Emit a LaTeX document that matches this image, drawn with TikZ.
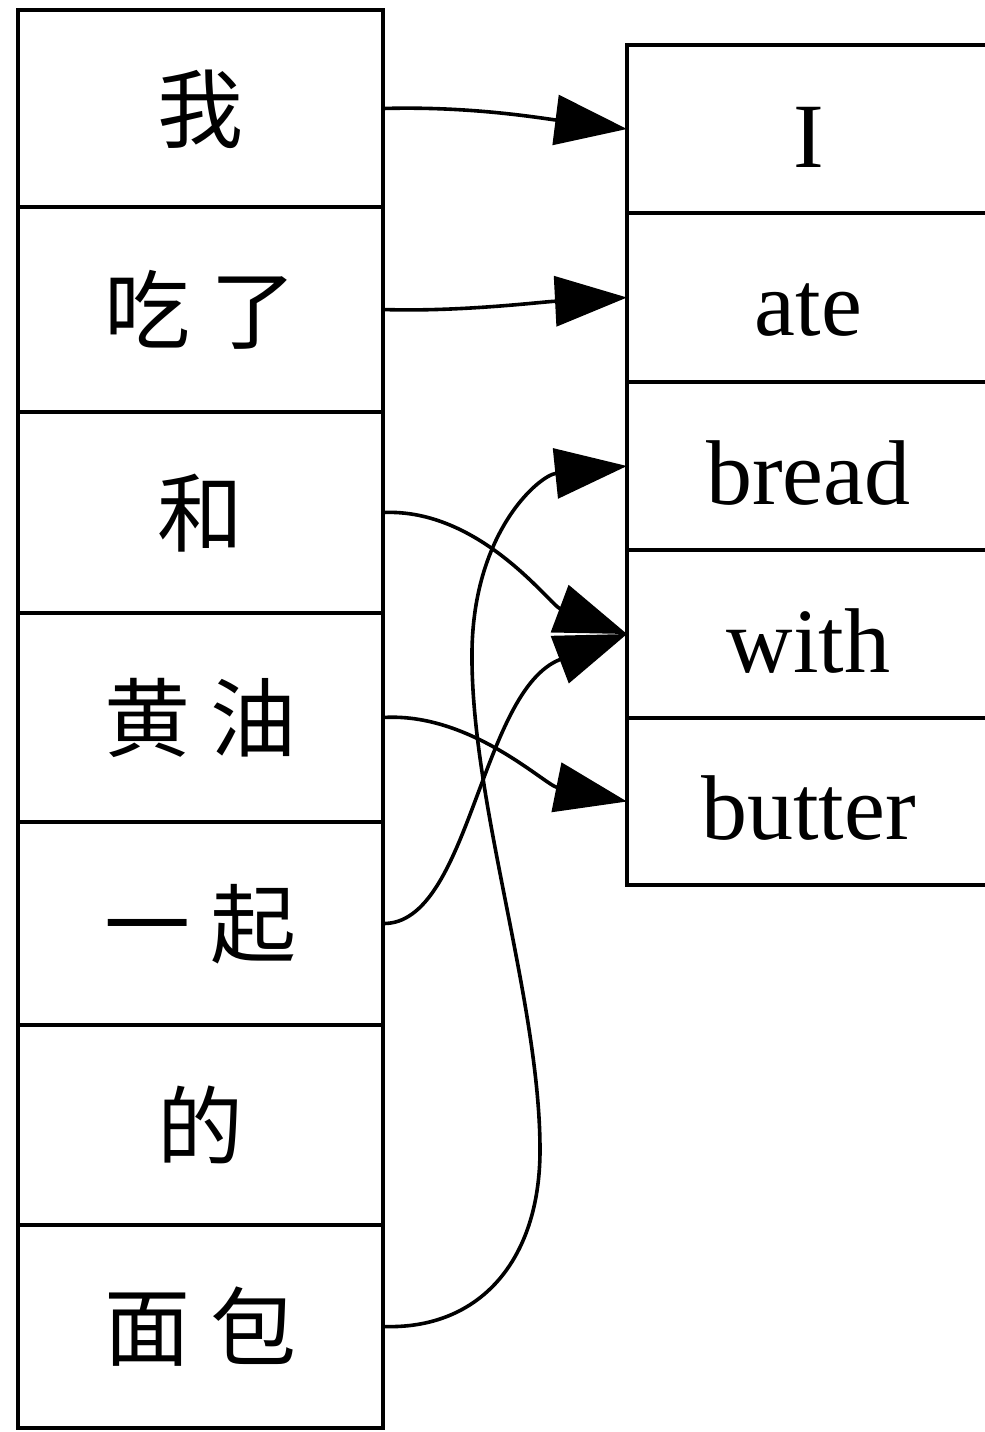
\documentclass[tikz,border=0pt]{standalone}
\usepackage{fontspec}
\setmainfont{Liberation Serif}
\newfontfamily\cjk{Noto Sans CJK SC}
\usetikzlibrary{arrows.meta}
\begin{document}
\begin{tikzpicture}[x=0.5pt,y=-0.5pt,
 cell/.style={draw, line width=1.9pt, rectangle, inner sep=0pt, outer sep=0pt, text height=38pt, text depth=0pt, font=\fontsize{46}{50}\selectfont},
 lcell/.style={cell, minimum width=182.5pt, text height=33pt, font=\fontsize{43}{48}\selectfont\cjk},
 rcell/.style={cell, minimum width=181.5pt},
 link/.style={line width=1.8pt, -{Triangle[length=36pt,width=25pt]}}]
\useasboundingbox (0,0) rectangle (985,1432);
% left column
\node[lcell, minimum height=98.5pt]  (w1) at (200.5,108.5)  {我};
\node[lcell, minimum height=102.5pt] (w2) at (200.5,309.5)  {吃 了};
\node[lcell, minimum height=100.5pt] (w3) at (200.5,512.5)  {和};
\node[lcell, minimum height=104.5pt] (w4) at (200.5,717.5)  {黄 油};
\node[lcell, minimum height=101.5pt] (w5) at (200.5,923.5)  {一 起};
\node[lcell, minimum height=100pt]   (w6) at (200.5,1125)   {的};
\node[lcell, minimum height=101.5pt] (w7) at (200.5,1326.5) {面 包};
% right column
\node[rcell, minimum height=84pt]   (r1) at (808.5,129)   {I};
\node[rcell, minimum height=84.5pt] (r2) at (808.5,297.5) {ate};
\node[rcell, minimum height=84pt]   (r3) at (808.5,466)   {bread};
\node[rcell, minimum height=84pt]   (r4) at (808.5,634)   {with};
\node[rcell, minimum height=83.5pt] (r5) at (808.5,801.5) {butter};
% links
\draw[link] (w1.east) .. controls (470,106) and (540,118) .. (r1.west);
\draw[link] (w2.east) .. controls (460,312) and (540,302) .. (r2.west);
\draw[link] (w3.east) .. controls (480,508) and (550,605) .. (r4.west);
\draw[link] (w4.east) .. controls (470,712) and (545,785) .. (r5.west);
\draw[link] (w5.east) .. controls (470,925) and (480,690) .. (r4.west);
\draw[link] (w7.east) .. controls (480,1330) and (540,1260) .. (540,1150)
  .. controls (540,1000) and (470,800) .. (472,650)
  .. controls (474,530) and (540,475) .. (r3.west);
\end{tikzpicture}
\end{document}
